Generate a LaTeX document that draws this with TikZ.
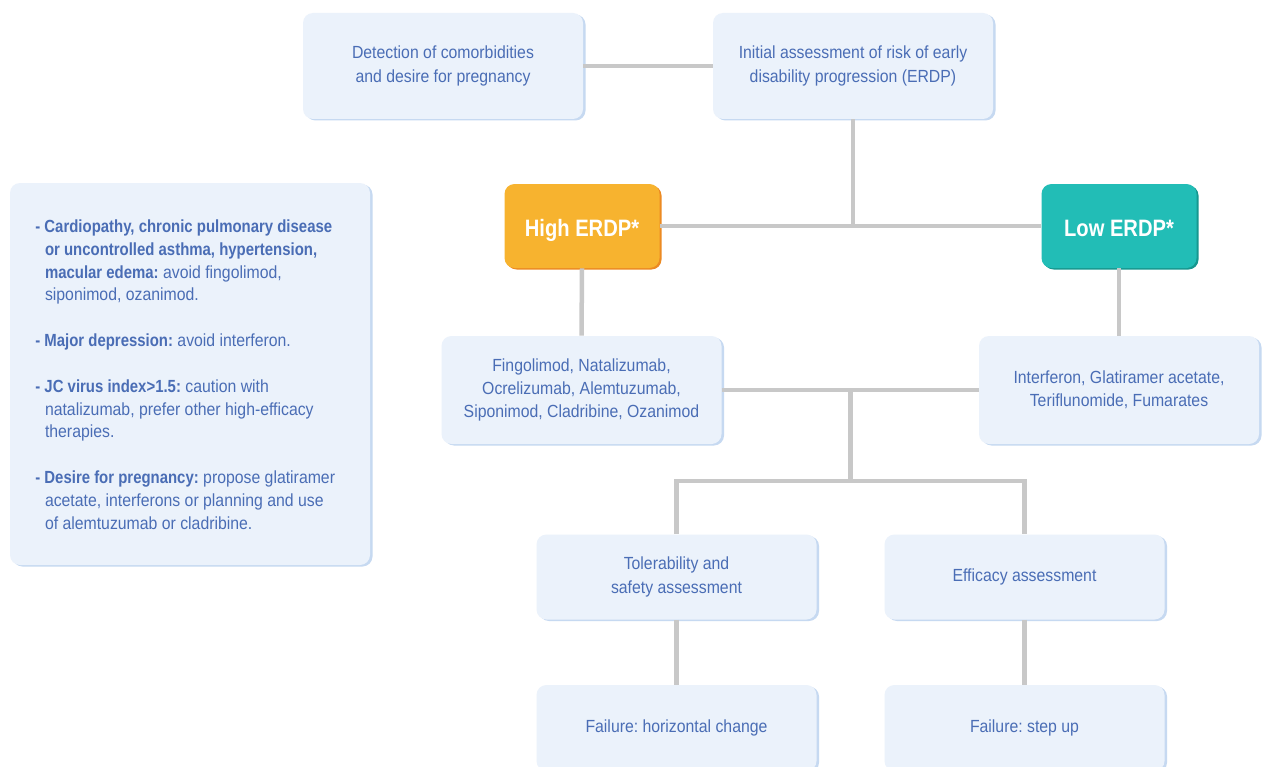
\documentclass[tikz,border=0pt]{standalone}
\usepackage{fontspec}
\setmainfont{Liberation Sans}[FakeStretch=0.9, BoldFeatures={FakeStretch=0.85}]
\usetikzlibrary{shadows,calc}
\newlength\pxu \setlength\pxu{0.02cm}
\definecolor{boxfill}{HTML}{EBF2FB}
\definecolor{boxshadow}{HTML}{C6D9F1}
\definecolor{txtblue}{HTML}{4A6DB5}
\definecolor{linegray}{HTML}{C8C8C8}
\definecolor{highfill}{HTML}{F7B32F}
\definecolor{highedge}{HTML}{EC8A22}
\definecolor{lowfill}{HTML}{22BDB6}
\definecolor{lowedge}{HTML}{16978F}
\tikzset{
  infobox/.style={rounded corners=10\pxu, fill=boxfill, draw=none, text=txtblue,
    align=center, font=\frenchspacing\fontsize{10}{13.3}\selectfont, minimum width=280\pxu,
    inner sep=0pt,
    drop shadow={shadow xshift=2.5\pxu, shadow yshift=-1.5\pxu, fill=boxshadow, opacity=1}},
  riskbox/.style={rounded corners=10\pxu, draw=none, text=white,
    font=\bfseries\fontsize{13.5}{15}\selectfont, minimum width=155\pxu,
    minimum height=84\pxu, inner sep=0pt, text height=12pt, text depth=0pt},
  highbox/.style={riskbox, fill=highfill,
    drop shadow={shadow xshift=2\pxu, shadow yshift=-1.5\pxu, fill=highedge, opacity=1}},
  lowbox/.style={riskbox, fill=lowfill,
    drop shadow={shadow xshift=2\pxu, shadow yshift=-1.5\pxu, fill=lowedge, opacity=1}},
  conn/.style={draw=linegray, line width=4.5\pxu},
}
\begin{document}
\begin{tikzpicture}[x=0.02cm, y=-0.02cm]
\useasboundingbox (0,0) rectangle (1265,767);
\clip (0,0) rectangle (1265,767);
\fill[white] (0,0) rectangle (1265,767);

% nodes
\node[infobox, minimum height=106\pxu] (det) at (443,66) {Detection of comorbidities\\and desire for pregnancy};
\node[infobox, minimum height=106\pxu] (ini) at (853,66) {Initial assessment of risk of early\\disability progression (ERDP)};
\node[highbox] (high) at (582,226) {High ERDP*};
\node[lowbox] (low) at (1119,226) {Low ERDP*};
\node[infobox, minimum width=360\pxu, minimum height=382\pxu] (side) at (190,374) {};
\node[anchor=west, text=txtblue, align=left, inner sep=0pt, font=\frenchspacing\fontsize{10}{13}\selectfont] (sidetext) at (35,374.5)
{\textbf{- Cardiopathy, chronic pulmonary disease}\\
\hphantom{- }\textbf{or uncontrolled asthma, hypertension,}\\
\hphantom{- }\textbf{macular edema:} avoid fingolimod,\\
\hphantom{- }siponimod, ozanimod.\\
\mbox{}\\
\textbf{- Major depression:} avoid interferon.\\
\mbox{}\\
\textbf{- JC virus index>1.5:} caution with\\
\hphantom{- }natalizumab, prefer other high-efficacy\\
\hphantom{- }therapies.\\
\mbox{}\\
\textbf{- Desire for pregnancy:} propose glatiramer\\
\hphantom{- }acetate, interferons or planning and use\\
\hphantom{- }of alemtuzumab or cladribine.};
\node[infobox, minimum height=108\pxu] (hdrugs) at (581.5,390) {Fingolimod, Natalizumab,\\Ocrelizumab, Alemtuzumab,\\Siponimod, Cladribine, Ozanimod};
\node[infobox, minimum height=108\pxu] (ldrugs) at (1119,390) {Interferon, Glatiramer acetate,\\Teriflunomide, Fumarates};
\node[infobox, minimum height=85\pxu] (tol) at (676.5,577) {Tolerability and\\safety assessment};
\node[infobox, minimum height=85\pxu] (eff) at (1024.5,577) {Efficacy assessment};
\node[infobox, minimum height=86\pxu] (fh) at (676.5,728) {Failure: horizontal change};
\node[infobox, minimum height=86\pxu] (fs) at (1024.5,728) {Failure: step up};

% connectors
\coordinate (j1) at (ini.south |- high.east);
\coordinate (j2) at ($(hdrugs.east)!0.5!(ldrugs.west)$);
\coordinate (j3) at ($(j2)+(0,91)$);
\draw[conn] (det.east) -- (ini.west);
\draw[conn] (ini.south) -- (j1);
\draw[conn] (high.east) -- (low.west);
\draw[conn] (high.south) -- (hdrugs.north);
\draw[conn] (low.south) -- (ldrugs.north);
\draw[conn] (hdrugs.east) -- (ldrugs.west);
\draw[conn] (j2) -- (j3);
\draw[conn] (tol.north) |- (j3) -| (eff.north);
\draw[conn] (tol.south) -- (fh.north);
\draw[conn] (eff.south) -- (fs.north);
\end{tikzpicture}
\end{document}
